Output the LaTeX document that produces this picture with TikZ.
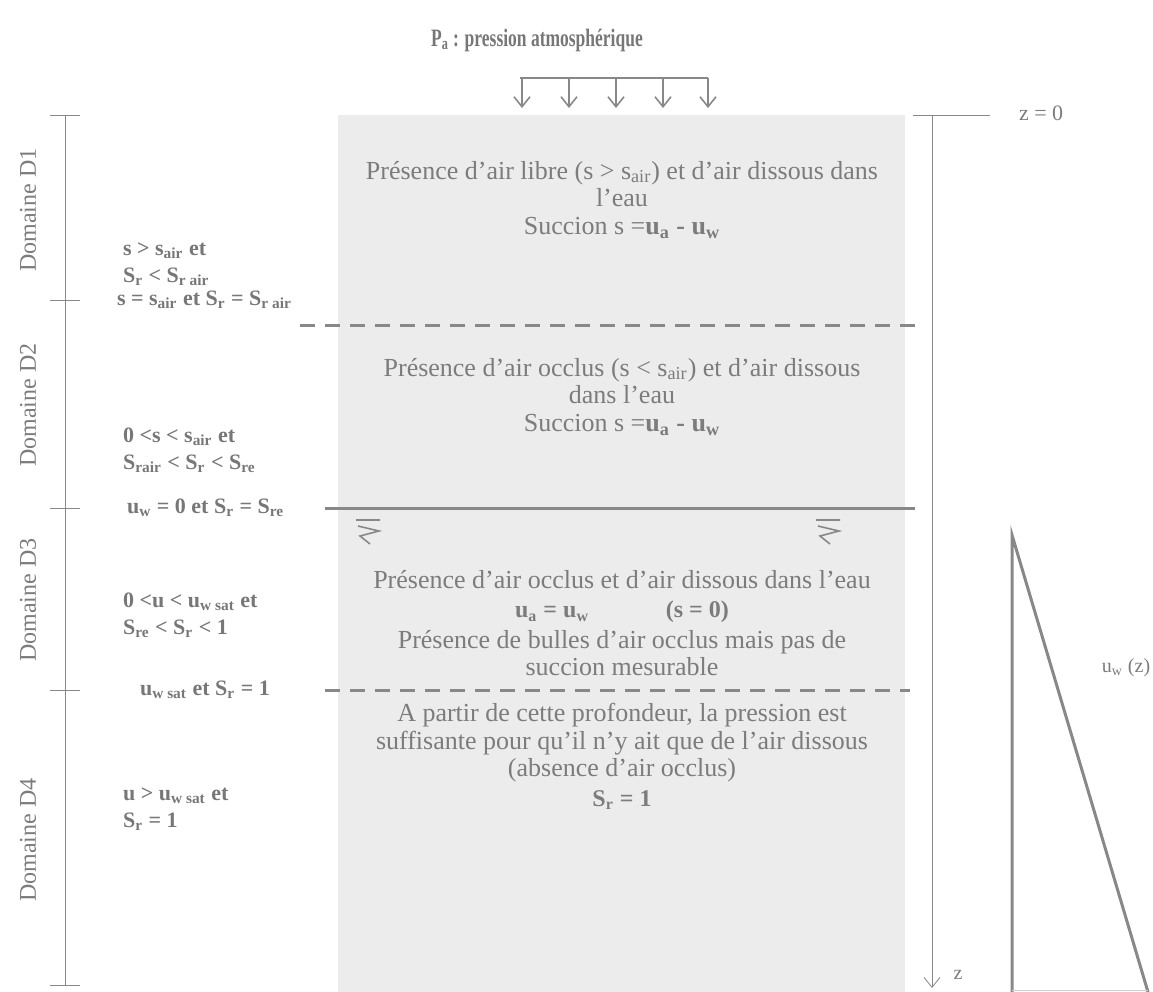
\documentclass[tikz,border=0pt]{standalone}
\usepackage{fontspec}
\setmainfont{Liberation Serif}
\usetikzlibrary{arrows.meta}
\definecolor{Sol}{HTML}{ECECEC}
\definecolor{Trait}{HTML}{888888}
\definecolor{Texte}{HTML}{7C7C7C}
\definecolor{TexteFonce}{HTML}{777777}
\newcommand{\bas}[1]{\textsubscript{#1}}

\begin{document}
\begin{tikzpicture}[x=0.5pt,y=-0.5pt,>={Straight Barb[length=5pt,width=8pt]},every node/.style={font=\fontsize{13}{13.8}\selectfont,text=Texte},
 cond/.style={anchor=west,align=left,text=TexteFonce,font=\bfseries\fontsize{11}{13.5}\selectfont},
 zone/.style={align=center},
 domaine/.style={rotate=90,font=\fontsize{12}{14}\selectfont},
 limite/.style={Trait,line width=1.5pt,dash pattern=on 7.5pt off 5pt}]
\useasboundingbox (0,0) rectangle (1153,992);
\fill[Sol] (338,115) rectangle (905,992);
% pression atmospherique
\node[font=\bfseries\fontsize{12.5}{14}\selectfont,text=TexteFonce] (titre) at (537,40) {\scalebox{0.70}[1]{P\bas{a} : pression atmosphérique}};
\draw[Trait,thick] (520,78)--(708,78); \foreach \x in {522,569,616,663,708}{\draw[Trait,thick,->] (\x,78)--(\x,108);}
% axe z
\draw[Trait] (913,115)--(990,115); \node[anchor=west,font=\fontsize{11}{12}\selectfont] (z0) at (1012,113) {z = 0};
\draw[Trait,->] (932,115)--(932,988); \node[font=\fontsize{10}{11}\selectfont] (zlab) at (958,975) {z};
% domaines
\draw[Trait] (65,115)--(65,985); \foreach \y in {115,300,508,690,985}{\draw[Trait] (50,\y)--(80,\y);}
\node[domaine] (d1) at (28,210) {Domaine D1}; \node[domaine] (d2) at (28,405) {Domaine D2};
\node[domaine] (d3) at (28,600) {Domaine D3}; \node[domaine] (d4) at (28,840) {Domaine D4};
\node[cond] (c1) at (116,264) {s > s\bas{air} et\\S\bas{r} < S\bas{r air}};
\node[cond] (f12) at (110,300) {s = s\bas{air} et S\bas{r} = S\bas{r air}};
\node[cond] (c2) at (116,450) {0 <s < s\bas{air} et\\S\bas{rair} < S\bas{r} < S\bas{re}};
\node[cond] (f23) at (120,508) {u\bas{w} = 0 et S\bas{r} = S\bas{re}};
\node[cond] (c3) at (116,615) {0 <u < u\bas{w sat} et\\S\bas{re} < S\bas{r} < 1};
\node[cond] (f34) at (133,690) {u\bas{w sat} et S\bas{r} = 1};
\node[cond] (c4) at (116,809) {u > u\bas{w sat} et\\S\bas{r} = 1};
% limites
\draw[limite] (300,325)--(918,325); \draw[Trait,line width=1.5pt] (325,508)--(915,508); \draw[limite] (325,690)--(910,690);
\foreach \x in {368,828}{\draw[Trait,thick] (\x-12,520)--(\x+12,520) (\x-10,526)--(\x+11,531)--(\x-8,536)--(\x+2,544);}
% textes du sol
\node[zone] (t1) at (622,184) {Présence d’air libre (s > s\bas{air}) et d’air dissous dans\\l’eau};
\node (t1b) at (622,228) {Succion s =\textbf{u\bas{a} - u\bas{w}}};
\node[zone] (t2) at (622,381) {Présence d’air occlus (s < s\bas{air}) et d’air dissous\\dans l’eau};
\node (t2b) at (622,425) {Succion s =\textbf{u\bas{a} - u\bas{w}}};
\node (t3) at (622,580) {Présence d’air occlus et d’air dissous dans l’eau};
\node[font=\bfseries\fontsize{12}{13.5}\selectfont] (t3b) at (622,612) {u\bas{a} = u\bas{w}\hspace{3.2em}(s = 0)};
\node[zone] (t3c) at (622,653) {Présence de bulles d’air occlus mais pas de\\succion mesurable};
\node[zone] (t4) at (622,743) {A partir de cette profondeur, la pression est\\suffisante pour qu’il n’y ait que de l’air dissous\\(absence d’air occlus)};
\node[font=\bfseries\fontsize{12}{13.5}\selectfont] (t4b) at (622,800) {S\bas{r} = 1};
% profil u_w(z)
\draw[Trait,line width=1.5pt] (1012,992)--(1012,535)--(1148,992); \draw[Trait!40] (1012,990)--(1148,990);
\node[font=\fontsize{10}{11}\selectfont] (uwz) at (1126,668) {u\bas{w} (z)};
\end{tikzpicture}
\end{document}
